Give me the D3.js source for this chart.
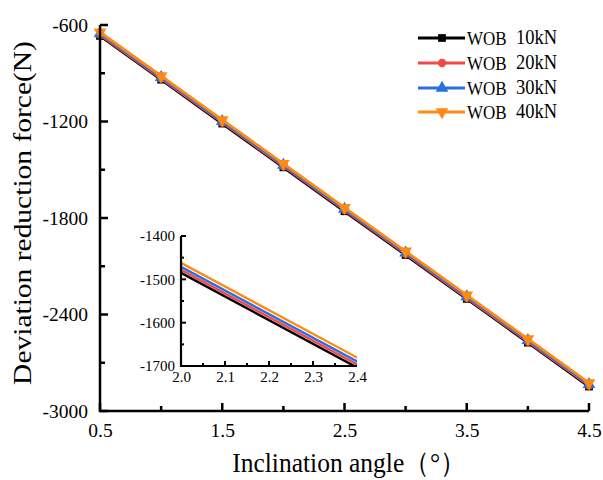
<!DOCTYPE html>
<html><head><meta charset="utf-8">
<script src="https://cdn.jsdelivr.net/npm/d3@7"></script>
<style>body{margin:0;background:#fff}svg{display:block}text{font-family:"Liberation Serif","Times New Roman",serif}</style>
</head><body>
<svg id="c" width="603" height="480"></svg>
<script>
const angles = [0.5, 1.0, 1.5, 2.0, 2.5, 3.0, 3.5, 4.0, 4.5];
const wob10 = [-668, -940, -1213, -1485, -1758, -2030, -2303, -2575, -2848];
const wob20 = [-661, -933, -1206, -1478, -1751, -2023, -2296, -2568, -2841];
const wob30 = [-654, -926, -1199, -1471, -1744, -2016, -2289, -2561, -2834];
const wob40 = [-645, -917, -1190, -1462, -1735, -2007, -2280, -2552, -2825];
const seriesNames = ["10kN", "20kN", "30kN", "40kN"];
const seriesColors = ["#000000", "#f44848", "#2a6fe0", "#ff8a10"];
const seriesShapes = ["square", "circle", "triangle-up", "triangle-down"];
const xTicks = [0.5, 1.5, 2.5, 3.5, 4.5];
const yTicks = [-600, -1200, -1800, -2400, -3000];
const insetXTicks = [2.0, 2.1, 2.2, 2.3, 2.4];
const insetYTicks = [-1400, -1500, -1600, -1700];

const series = [wob10, wob20, wob30, wob40].map((v, i) => ({
  name: seriesNames[i], color: seriesColors[i], shape: seriesShapes[i],
  pts: angles.map((a, j) => [a, v[j]])
}));

const svg = d3.select("#c");
const x = d3.scaleLinear().domain([0.5, 4.5]).range([100, 589]);
const y = d3.scaleLinear().domain([-3000, -600]).range([411, 25]);
const intFmt = d => String(Math.round(d)); // plain hyphen minus, as in the reference

function symbolFor(shape) {
  if (shape === "square") return d3.symbol(d3.symbolSquare, 60);
  if (shape === "circle") return d3.symbol(d3.symbolCircle, 55);
  return d3.symbol(d3.symbolTriangle, 70);
}

// Lines
const line = d3.line().x(d => x(d[0])).y(d => y(d[1]));
series.forEach(s => {
  svg.append("path").attr("d", line(s.pts)).attr("fill", "none")
    .attr("stroke", s.color).attr("stroke-width", 2.8);
  svg.selectAll(null).data(s.pts).enter().append("path")
    .attr("d", symbolFor(s.shape)())
    .attr("transform", d => `translate(${x(d[0])},${y(d[1])})` + (s.shape === "triangle-down" ? " rotate(180)" : ""))
    .attr("fill", s.color);
});

// Main axes
const axisColor = "#000";
const gx = svg.append("g").attr("transform", "translate(0,411)");
gx.call(d3.axisBottom(x).tickValues(xTicks).tickSize(0).tickPadding(12).tickFormat(d3.format(".1f")));
gx.select(".domain").remove();
gx.selectAll("text").attr("font-size", 19.5).attr("fill", "#000").attr("font-family", "Liberation Serif");
const gy = svg.append("g").attr("transform", "translate(100,0)");
gy.call(d3.axisLeft(y).tickValues(yTicks).tickSize(0).tickPadding(12).tickFormat(intFmt));
gy.select(".domain").remove();
gy.selectAll("text").attr("font-size", 19.5).attr("fill", "#000").attr("font-family", "Liberation Serif");

// tick marks (inward)
const minorX = [1.0, 2.0, 3.0, 4.0];
const minorY = [-900, -1500, -2100, -2700];
xTicks.forEach(t => svg.append("line").attr("x1", x(t)).attr("x2", x(t)).attr("y1", 411).attr("y2", 403).attr("stroke", axisColor).attr("stroke-width", 2.5));
minorX.forEach(t => svg.append("line").attr("x1", x(t)).attr("x2", x(t)).attr("y1", 411).attr("y2", 406).attr("stroke", axisColor).attr("stroke-width", 2.5));
yTicks.forEach(t => svg.append("line").attr("x1", 100).attr("x2", 108).attr("y1", y(t)).attr("y2", y(t)).attr("stroke", axisColor).attr("stroke-width", 2.5));
minorY.forEach(t => svg.append("line").attr("x1", 100).attr("x2", 105).attr("y1", y(t)).attr("y2", y(t)).attr("stroke", axisColor).attr("stroke-width", 2.5));
svg.append("path").attr("d", `M100,${y(-600)}V411H589`).attr("fill", "none").attr("stroke", axisColor).attr("stroke-width", 2.5);

// Axis titles
svg.append("text").attr("transform", "translate(349,472) scale(1,1.1)").attr("text-anchor", "middle")
  .attr("font-size", 25.5).text("Inclination angle（°）");
svg.append("text").attr("transform", "translate(31,213) rotate(-90) scale(1.18,1)").attr("text-anchor", "middle")
  .attr("font-size", 25).text("Deviation reduction force(N)");

// Legend
const legY = [38, 63, 88, 112];
series.forEach((s, i) => {
  const g = svg.append("g").attr("transform", `translate(0,${legY[i]})`);
  g.append("line").attr("x1", 418).attr("x2", 465).attr("y1", 0).attr("y2", 0).attr("stroke", s.color).attr("stroke-width", 2.8);
  g.append("path").attr("d", symbolFor(s.shape)()).attr("fill", s.color)
    .attr("transform", "translate(442,0)" + (s.shape === "triangle-down" ? " rotate(180)" : ""));
  g.append("text").attr("transform", "translate(467,7) scale(1,1.05)").attr("font-size", 17).text("WOB");
  g.append("text").attr("transform", "translate(516,6) scale(1,1.08)").attr("font-size", 18.5).text(s.name);
});

// Inset
const ix = d3.scaleLinear().domain([2.0, 2.4]).range([181, 357]);
const iy = d3.scaleLinear().domain([-1700, -1400]).range([366, 236]);
svg.append("defs").append("clipPath").attr("id", "insetClip")
  .append("rect").attr("x", 181).attr("y", 236).attr("width", 176).attr("height", 130);
svg.append("rect").attr("x", 181).attr("y", 236).attr("width", 176).attr("height", 130).attr("fill", "#fff");
const iline = d3.line().x(d => ix(d[0])).y(d => iy(d[1]));
const ig = svg.append("g").attr("clip-path", "url(#insetClip)");
series.forEach(s => {
  ig.append("path").attr("d", iline(s.pts)).attr("fill", "none").attr("stroke", s.color).attr("stroke-width", 2.4);
});
const igx = svg.append("g").attr("transform", "translate(0,366)");
igx.call(d3.axisBottom(ix).tickValues(insetXTicks).tickSize(0).tickPadding(5).tickFormat(d3.format(".1f")));
igx.select(".domain").remove();
igx.selectAll("text").attr("font-size", 15).attr("fill", "#000").attr("font-family", "Liberation Serif");
const igy = svg.append("g").attr("transform", "translate(181,0)");
igy.call(d3.axisLeft(iy).tickValues(insetYTicks).tickSize(0).tickPadding(6).tickFormat(intFmt));
igy.select(".domain").remove();
igy.selectAll("text").attr("font-size", 15).attr("fill", "#000").attr("font-family", "Liberation Serif");
const iMinorX = [2.05, 2.1, 2.15, 2.2, 2.25, 2.3, 2.35];
const iMinorY = [-1450, -1500, -1550, -1600, -1650];
iMinorX.forEach((t, k) => svg.append("line").attr("x1", ix(t)).attr("x2", ix(t)).attr("y1", 366).attr("y2", k % 2 ? 361 : 363).attr("stroke", "#000").attr("stroke-width", 2));
iMinorY.forEach((t, k) => svg.append("line").attr("x1", 181).attr("x2", k % 2 ? 186 : 184).attr("y1", iy(t)).attr("y2", iy(t)).attr("stroke", "#000").attr("stroke-width", 2));
svg.append("line").attr("x1", 181).attr("x2", 186).attr("y1", iy(-1400)).attr("y2", iy(-1400)).attr("stroke", "#000").attr("stroke-width", 2);
svg.append("path").attr("d", `M181,236V366H357`).attr("fill", "none").attr("stroke", "#000").attr("stroke-width", 2.2);
</script>
</body></html>
